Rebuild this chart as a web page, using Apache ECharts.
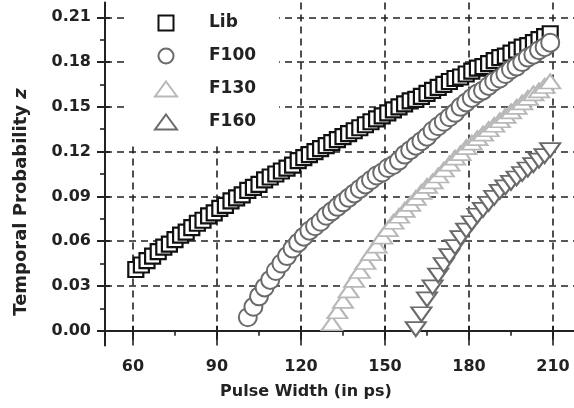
<!DOCTYPE html>
<html>
<head>
<meta charset="utf-8">
<script src="https://cdn.jsdelivr.net/npm/echarts@6/dist/echarts.min.js"></script>
<style>
  html, body { margin: 0; padding: 0; background: #fff; }
  #chart { width: 574px; height: 408px; }
</style>
</head>
<body>
<div id="chart"></div>
<script>
// tick values
const xTicks = [60, 90, 120, 150, 180, 210];
const xMinor = [75, 105, 135, 165, 195];
const yTicks = [0, 0.03, 0.06, 0.09, 0.12, 0.15, 0.18, 0.21];
const yMinor = [0.015, 0.045, 0.075, 0.105, 0.135, 0.165, 0.195];

// Lib (squares)
const libX = [61, 63, 65, 67, 69, 71, 73, 75, 77, 79, 81, 83, 85, 87, 89, 91, 93, 95, 97, 99,
  101, 103, 105, 107, 109, 111, 113, 115, 117, 119, 121, 123, 125, 127, 129, 131, 133, 135, 137, 139,
  141, 143, 145, 147, 149, 151, 153, 155, 157, 159, 161, 163, 165, 167, 169, 171, 173, 175, 177, 179,
  181, 183, 185, 187, 189, 191, 193, 195, 197, 199, 201, 203, 205, 207, 209];
const libY = [0.041, 0.044, 0.047, 0.050, 0.053, 0.056, 0.058, 0.061, 0.064, 0.066, 0.069, 0.072, 0.074, 0.077, 0.079, 0.082, 0.084, 0.087, 0.089, 0.091,
  0.094, 0.096, 0.098, 0.101, 0.103, 0.105, 0.107, 0.109, 0.111, 0.114, 0.116, 0.118, 0.120, 0.122, 0.124, 0.126, 0.128, 0.130, 0.132, 0.134,
  0.136, 0.138, 0.140, 0.142, 0.144, 0.146, 0.148, 0.150, 0.152, 0.154, 0.155, 0.157, 0.159, 0.161, 0.163, 0.165, 0.167, 0.169, 0.170, 0.172,
  0.174, 0.176, 0.177, 0.179, 0.181, 0.183, 0.184, 0.186, 0.188, 0.190, 0.191, 0.193, 0.195, 0.197, 0.199];

// F100 (circles)
const f100X = [101, 103, 105, 107, 109, 111, 113, 115, 117, 119, 121, 123, 125, 127, 129, 131, 133, 135, 137, 139,
  141, 143, 145, 147, 149, 151, 153, 155, 157, 159, 161, 163, 165, 167, 169, 171, 173, 175, 177, 179,
  181, 183, 185, 187, 189, 191, 193, 195, 197, 199, 201, 203, 205, 207, 209];
const f100Y = [0.009, 0.016, 0.023, 0.029, 0.034, 0.040, 0.045, 0.050, 0.055, 0.059, 0.063, 0.067, 0.070, 0.073, 0.077, 0.080, 0.083, 0.086, 0.089, 0.092,
  0.095, 0.098, 0.101, 0.104, 0.106, 0.109, 0.111, 0.114, 0.118, 0.121, 0.124, 0.127, 0.130, 0.134, 0.137, 0.140, 0.143, 0.146, 0.150, 0.153,
  0.156, 0.159, 0.161, 0.164, 0.167, 0.169, 0.172, 0.175, 0.177, 0.180, 0.183, 0.185, 0.188, 0.190, 0.193];

// F130 (triangles)
const f130X = [131, 133, 135, 137, 139, 141, 143, 145, 147, 149, 151, 153, 155, 157, 159, 161, 163, 165, 167, 169,
  171, 173, 175, 177, 179, 181, 183, 185, 187, 189, 191, 193, 195, 197, 199, 201, 203, 205, 207, 209];
const f130Y = [0.005, 0.013, 0.020, 0.027, 0.034, 0.040, 0.046, 0.052, 0.057, 0.063, 0.068, 0.073, 0.077, 0.081, 0.085, 0.089, 0.093, 0.097, 0.100, 0.104,
  0.108, 0.112, 0.116, 0.119, 0.123, 0.126, 0.129, 0.132, 0.135, 0.138, 0.141, 0.144, 0.147, 0.150, 0.153, 0.156, 0.159, 0.161, 0.164, 0.167];

// F160 (down triangles)
const f160X = [161, 163, 165, 167, 169, 171, 173, 175, 177, 179, 181, 183, 185, 187, 189, 191, 193, 195, 197, 199,
  201, 203, 205, 207, 209];
const f160Y = [0.001, 0.011, 0.021, 0.029, 0.037, 0.044, 0.050, 0.056, 0.062, 0.067, 0.072, 0.077, 0.081, 0.085, 0.089, 0.093, 0.096, 0.099, 0.102, 0.105,
  0.108, 0.111, 0.114, 0.117, 0.121];

const FONT = "DejaVu Sans";
const INK = "#222";

function pairs(xs, ys) {
  return xs.map(function (x, i) { return [x, ys[i]]; });
}

let myChart = echarts.init(document.getElementById("chart"));

const xCommon = { type: "value", min: 50, max: 217.5, position: "bottom" };
const yCommon = { type: "value", min: -0.01, max: 0.22, position: "left" };
const dashed = { show: true, lineStyle: { color: INK, width: 1.6, type: [7, 5] } };

let option = {
  backgroundColor: "#fff",
  animation: false,
  grid: { left: 105, right: 0, top: 2.4, bottom: 62.4 },
  legend: {
    orient: "vertical",
    left: 125,
    top: 0,
    padding: [13, 23, 11, 29],
    backgroundColor: "#fff",
    itemWidth: 22,
    itemHeight: 15,
    itemGap: 13,
    selectedMode: false,
    textStyle: {
      fontFamily: FONT,
      fontWeight: "bold",
      fontSize: 17,
      color: INK,
      lineHeight: 20,
      padding: [0, 0, 0, 27],
    },
    data: [
      { name: "Lib", icon: "path://M0,0L10,0L10,10L0,10Z" },
      { name: "F100" },
      { name: "F130" },
      { name: "F160" },
    ],
  },
  xAxis: [
    Object.assign({}, xCommon, {
      name: "Pulse Width (in ps)",
      nameLocation: "middle",
      nameGap: 38,
      nameTextStyle: { fontFamily: FONT, fontWeight: "bold", fontSize: 16, color: INK, padding: [0, 67, 0, 0] },
      axisLine: { show: true, lineStyle: { color: INK, width: 2 } },
      axisTick: { show: true, customValues: xTicks, length: 9, lineStyle: { color: INK, width: 2 } },
      axisLabel: {
        customValues: xTicks, margin: 13,
        fontFamily: FONT, fontWeight: "bold", fontSize: 16, color: INK,
      },
      splitLine: dashed,
    }),
    Object.assign({}, xCommon, {
      axisLine: { show: false },
      axisTick: { show: true, inside: true, customValues: xTicks, length: 5, lineStyle: { color: INK, width: 2 } },
      axisLabel: { show: false },
      splitLine: { show: false },
    }),
    Object.assign({}, xCommon, {
      axisLine: { show: false },
      axisTick: { show: true, customValues: xMinor, length: 5, lineStyle: { color: INK, width: 1.6 } },
      axisLabel: { show: false },
      splitLine: { show: false },
    }),
  ],
  yAxis: [
    Object.assign({}, yCommon, {
      name: "Temporal Probability {i|z}",
      nameLocation: "middle",
      nameGap: 75,
      nameTextStyle: {
        fontFamily: FONT, fontWeight: "bold", fontSize: 18, color: INK, padding: [0, 56, 0, 0],
        rich: { i: { fontFamily: FONT, fontWeight: "bold", fontStyle: "italic", fontSize: 18, color: INK } },
      },
      axisLine: { show: true, lineStyle: { color: INK, width: 2 } },
      axisTick: { show: true, customValues: yTicks, length: 8, lineStyle: { color: INK, width: 2 } },
      axisLabel: {
        customValues: yTicks, margin: 14,
        fontFamily: FONT, fontWeight: "bold", fontSize: 16, color: INK,
        formatter: function (v) { return v.toFixed(2); },
      },
      splitLine: dashed,
    }),
    Object.assign({}, yCommon, {
      axisLine: { show: false },
      axisTick: { show: true, inside: true, customValues: yTicks, length: 5, lineStyle: { color: INK, width: 2 } },
      axisLabel: { show: false },
      splitLine: { show: false },
    }),
    Object.assign({}, yCommon, {
      axisLine: { show: false },
      axisTick: { show: true, customValues: yMinor, length: 5, lineStyle: { color: INK, width: 1.6 } },
      axisLabel: { show: false },
      splitLine: { show: false },
    }),
  ],
  series: [
    {
      name: "Lib",
      type: "scatter",
      symbol: "rect",
      symbolSize: 15,
      itemStyle: { color: "#fff", borderColor: "#111", borderWidth: 2.2, opacity: 1 },
      data: pairs(libX, libY),
    },
    {
      name: "F100",
      type: "scatter",
      symbol: "circle",
      symbolSize: 18,
      itemStyle: { color: "#fff", borderColor: "#6b6b6b", borderWidth: 2, opacity: 1 },
      data: pairs(f100X, f100Y),
    },
    {
      name: "F130",
      type: "scatter",
      symbol: "triangle",
      symbolSize: [20, 14],
      itemStyle: { color: "#fff", borderColor: "#b8b8b8", borderWidth: 2, opacity: 1 },
      data: pairs(f130X, f130Y),
    },
    {
      name: "F160",
      type: "scatter",
      symbol: "triangle",
      symbolRotate: 180,
      symbolSize: [20, 14],
      itemStyle: { color: "#fff", borderColor: "#6a6a6a", borderWidth: 2, opacity: 1 },
      data: pairs(f160X, f160Y),
    },
  ],
};

myChart.setOption(option);
</script>
</body>
</html>
